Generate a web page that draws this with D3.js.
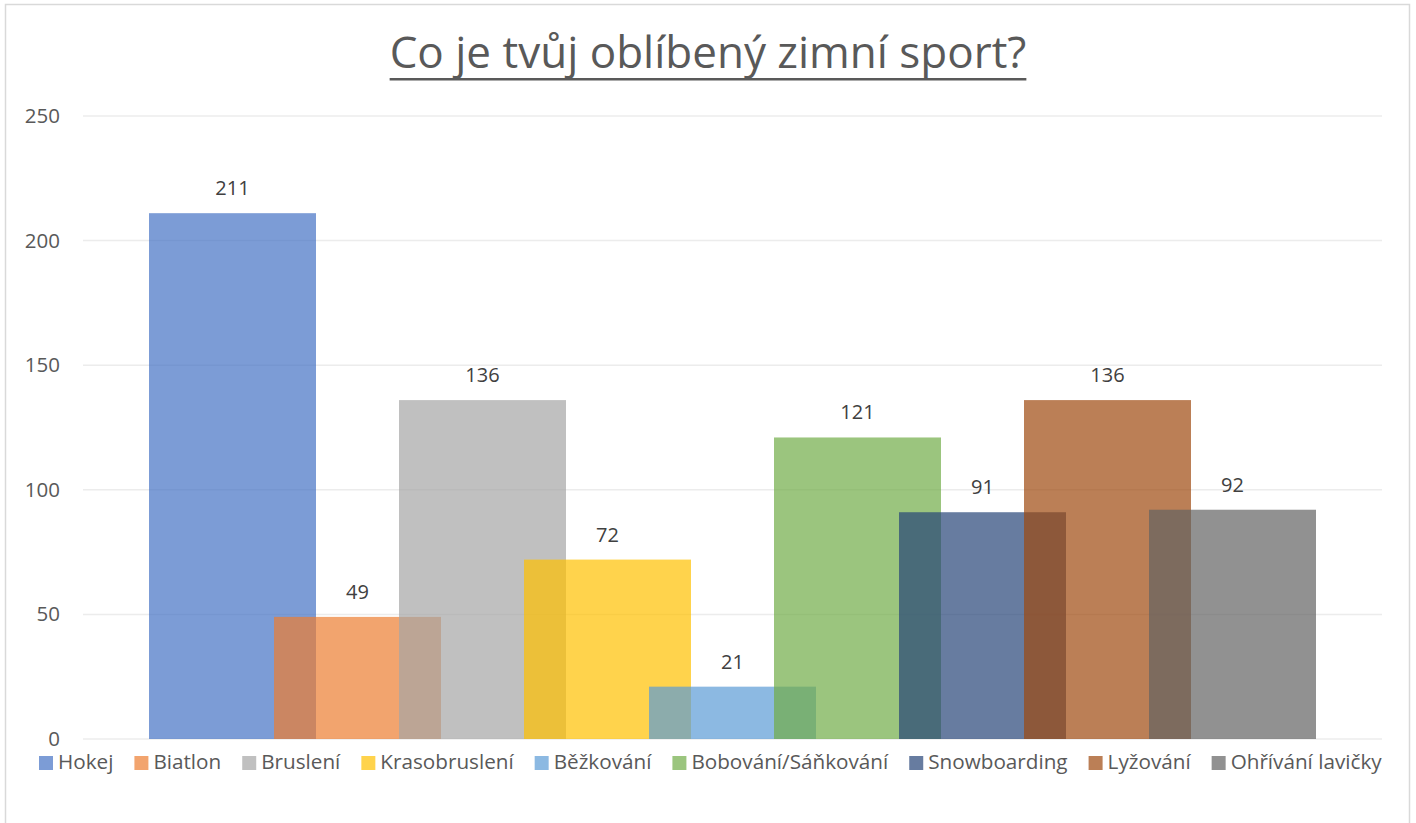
<!DOCTYPE html>
<html><head><meta charset="utf-8">
<script src="https://d3js.org/d3.v7.min.js"></script>
<style>body{margin:0;background:#fff}svg{display:block}</style>
</head><body>
<script>
const categories = ["Hokej","Biatlon","Bruslení","Krasobruslení","Běžkování","Bobování/Sáňkování","Snowboarding","Lyžování","Ohřívání lavičky"];
const values = [211,49,136,72,21,121,91,136,92];
const colors = ["#4472C4","#ED7D31","#A5A5A5","#FFC000","#5B9BD5","#70AD47","#264478","#9E480E","#636363"];
const yTicks = [0,50,100,150,200,250];
const title = "Co je tvůj oblíbený zimní sport?";

const W=1416,H=823;
const font = "'Open Sans', 'Noto Sans', sans-serif";
const svg = d3.select("body").append("svg").attr("width",W).attr("height",H);
svg.append("rect").attr("x",5.5).attr("y",4.5).attr("width",1404).attr("height",840)
  .attr("fill","#fff").attr("stroke","#d9d9d9").attr("stroke-width",1.5);

const plot = {left:83,right:1382,top:116,bottom:739};
const y = d3.scaleLinear().domain([0,250]).range([plot.bottom,plot.top]);
const x = d3.scaleBand().domain(categories).range([149,1274]).paddingInner(0).paddingOuter(0);
const bw = x.step()*1.336;

// gridlines
svg.append("g").selectAll("line").data(yTicks).join("line")
  .attr("x1",plot.left).attr("x2",plot.right)
  .attr("y1",d=>y(d)).attr("y2",d=>y(d))
  .attr("stroke","#ececec").attr("stroke-width",1.5);

// y axis
const yAxis = d3.axisLeft(y).tickValues(yTicks).tickSize(0).tickPadding(0);
const ga = svg.append("g").attr("transform","translate(60,0)").call(yAxis);
ga.select(".domain").remove();
ga.selectAll("text").attr("font-family",font).attr("font-size",20.5).attr("fill","#595959");

// bars
svg.append("g").selectAll("rect").data(categories).join("rect")
  .attr("x",d=>x(d)).attr("width",bw)
  .attr("y",(d,i)=>y(values[i])).attr("height",(d,i)=>y(0)-y(values[i]))
  .attr("fill",(d,i)=>colors[i]).attr("fill-opacity",0.7);

// labels
svg.append("g").selectAll("text").data(categories).join("text")
  .attr("x",d=>x(d)+bw/2).attr("y",(d,i)=>y(values[i])-18)
  .attr("text-anchor","middle").attr("font-family",font).attr("font-size",20)
  .attr("fill","#404040").text((d,i)=>values[i]);

// title
const t = svg.append("text").attr("x",708).attr("y",68).attr("text-anchor","middle")
  .attr("font-family",font).attr("font-weight",400).attr("font-size",40)
  .attr("fill","#595959").text(title);
let tw = t.node().getComputedTextLength();
const fs = 40*637/tw;
t.attr("font-size",fs);
tw = t.node().getComputedTextLength();
svg.append("rect").attr("x",708-tw/2).attr("y",78).attr("width",tw).attr("height",2.5).attr("fill","#595959");

// legend
const lg = svg.append("g");
const items = lg.selectAll("g").data(categories).join("g");
items.append("rect").attr("width",14).attr("height",14).attr("y",-13)
  .attr("fill",(d,i)=>colors[i]).attr("fill-opacity",0.7);
const lt = items.append("text").attr("x",19).attr("y",0).attr("font-family",font)
  .attr("font-size",18).attr("fill","#595959").text(d=>d);
// fit legend into span 39..1382
const gap = 21;
let widths = lt.nodes().map(n=>n.getComputedTextLength());
const lfs = 18*(1343-categories.length*19-(categories.length-1)*gap)/(d3.sum(widths));
lt.attr("font-size",lfs);
widths = lt.nodes().map(n=>n.getComputedTextLength());
let cx = 39;
items.attr("transform",(d,i)=>{const p=cx; cx += 19+widths[i]+gap; return `translate(${p},769)`;});
</script>
</body></html>
